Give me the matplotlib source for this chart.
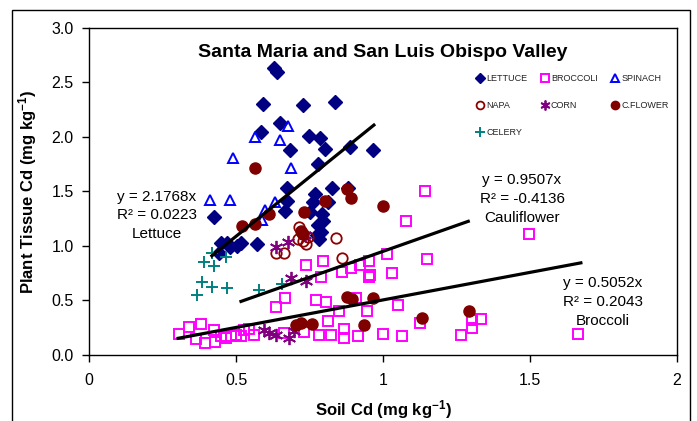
import matplotlib
matplotlib.use("Agg")
import matplotlib.pyplot as plt
import numpy as np
from matplotlib.patches import Rectangle

plt.rcParams["font.family"] = ["Liberation Sans", "DejaVu Sans"]
plt.rcParams["mathtext.default"] = "regular"

# Soil Cd (x) and plant tissue Cd (y), mg/kg
lettuce_x = [0.629, 0.639, 0.592, 0.727, 0.837, 0.650, 0.585, 0.748, 0.786, 0.684,
             0.803, 0.888, 0.966, 0.779, 0.673, 0.826, 0.881, 0.769, 0.673, 0.813,
             0.762, 0.667, 0.752, 0.793, 0.796, 0.425, 0.779, 0.789, 0.776, 0.782,
             0.571, 0.449, 0.469, 0.517, 0.503, 0.442, 0.480]
lettuce_y = [2.63, 2.60, 2.30, 2.29, 2.32, 2.13, 2.05, 2.01, 1.99, 1.88,
             1.89, 1.91, 1.88, 1.75, 1.53, 1.53, 1.53, 1.48, 1.41, 1.40,
             1.40, 1.32, 1.31, 1.29, 1.23, 1.27, 1.19, 1.13, 1.10, 1.06,
             1.02, 1.03, 1.03, 1.03, 1.00, 0.94, 0.99]

broccoli_x = [1.143, 1.078, 1.497, 1.014, 1.150, 0.738, 0.796, 0.952, 0.861, 0.891,
              0.922, 0.789, 0.952, 0.956, 1.031, 0.667, 0.636, 0.772, 0.806, 0.850,
              0.946, 1.051, 0.908, 0.813, 0.867, 0.867, 0.782, 0.823, 0.915, 1.000,
              1.065, 1.126, 1.265, 1.303, 1.333, 1.303, 1.663, 0.731, 0.663,
              0.306, 0.340, 0.381, 0.364, 0.395, 0.425, 0.429, 0.466, 0.483, 0.500,
              0.517, 0.527, 0.544, 0.561, 0.449]
broccoli_y = [1.50, 1.23, 1.11, 0.93, 0.88, 0.83, 0.86, 0.86, 0.76, 0.80,
              0.83, 0.72, 0.72, 0.73, 0.75, 0.52, 0.44, 0.50, 0.49, 0.40,
              0.40, 0.46, 0.52, 0.31, 0.24, 0.16, 0.18, 0.18, 0.17, 0.19,
              0.17, 0.29, 0.18, 0.32, 0.33, 0.25, 0.19, 0.21, 0.20,
              0.19, 0.26, 0.28, 0.15, 0.11, 0.23, 0.12, 0.16, 0.17, 0.18,
              0.17, 0.23, 0.24, 0.18, 0.17]

spinach_x = [0.677, 0.565, 0.650, 0.490, 0.687, 0.412, 0.480, 0.633, 0.599, 0.588]
spinach_y = [2.10, 2.00, 1.97, 1.81, 1.72, 1.42, 1.42, 1.40, 1.33, 1.24]

napa_x = [0.714, 0.724, 0.745, 0.728, 0.738, 0.840, 0.861, 0.636, 0.663, 0.711]
napa_y = [1.17, 1.12, 1.08, 1.05, 1.02, 1.07, 0.89, 0.94, 0.94, 1.06]

corn_x = [0.636, 0.677, 0.687, 0.738, 0.595, 0.612, 0.636, 0.680, 0.697, 0.735]
corn_y = [0.99, 1.04, 0.71, 0.68, 0.23, 0.20, 0.18, 0.16, 0.22, 1.10]

cflower_x = [0.565, 0.878, 0.891, 0.803, 1.000, 0.731, 0.612, 0.565, 0.520, 0.721,
             0.728, 0.878, 0.895, 0.966, 0.704, 0.721, 0.759, 0.935, 1.133, 1.293]
cflower_y = [1.72, 1.52, 1.44, 1.41, 1.37, 1.31, 1.29, 1.20, 1.18, 1.14,
             1.11, 0.53, 0.51, 0.52, 0.275, 0.29, 0.28, 0.275, 0.34, 0.40]

celery_x = [0.418, 0.466, 0.391, 0.425, 0.384, 0.418, 0.469, 0.367, 0.578, 0.656]
celery_y = [0.94, 0.90, 0.85, 0.82, 0.67, 0.62, 0.61, 0.55, 0.60, 0.65]

# trend lines through the origin: slope, x start, x end
trend_names = ["Lettuce", "Cauliflower", "Broccoli"]
trend_slope = [2.1768, 0.9507, 0.5052]
trend_r2 = ["0.0223", "-0.4136", "0.2043"]
trend_x0 = [0.418, 0.517, 0.303]
trend_x1 = [0.969, 1.29, 1.673]

fig = plt.figure(figsize=(6.97, 4.21), dpi=100)
ax = fig.add_axes([0.1277, 0.1568, 0.8436, 0.7767])

ax.plot(lettuce_x, lettuce_y, ls="none", marker="D", ms=7.3, color="#000080", label="LETTUCE")
ax.plot(broccoli_x, broccoli_y, ls="none", marker="s", ms=7, mfc="none", mec="#FF00FF", mew=1.4, label="BROCCOLI")
ax.plot(spinach_x, spinach_y, ls="none", marker="^", ms=7.5, mfc="none", mec="#0000FF", mew=1.4, label="SPINACH")
ax.plot(napa_x, napa_y, ls="none", marker="o", ms=7.5, mfc="none", mec="#8B0000", mew=1.3, label="NAPA")
ax.plot(corn_x, corn_y, ls="none", marker=(6, 2, 0), ms=9.5, color="#800080", mew=1.3, label="CORN")
ax.plot(cflower_x, cflower_y, ls="none", marker="o", ms=8, color="#800000", label="C.FLOWER")
ax.plot(celery_x, celery_y, ls="none", marker="+", ms=9, color="#008080", mew=1.4, label="CELERY")

for m, a, b in zip(trend_slope, trend_x0, trend_x1):
    xs = np.array([a, b])
    ax.plot(xs, m * xs, color="black", lw=2.3, zorder=5)

lbl = {"Lettuce": (0.231, 1.28), "Cauliflower": (1.473, 1.43), "Broccoli": (1.748, 0.49)}
for name, m, r2 in zip(trend_names, trend_slope, trend_r2):
    tx, ty = lbl[name]
    ax.text(tx, ty, f"y = {m:.4f}x\nR² = {r2}\n{name}", ha="center", va="center",
            fontsize=11, linespacing=1.45)

ax.set_xlim(0, 2)
ax.set_ylim(0, 3)
ax.set_xticks([0, 0.5, 1, 1.5, 2])
ax.set_xticklabels(["0", "0.5", "1", "1.5", "2"])
ax.set_yticks(np.arange(0, 3.01, 0.5))
ax.set_yticklabels([f"{v:.1f}" for v in np.arange(0, 3.01, 0.5)])
ax.tick_params(direction="out", length=5, labelsize=11.5, width=1)
ax.tick_params(axis="x", pad=8)
ax.tick_params(axis="y", pad=6)
for s in ax.spines.values():
    s.set_linewidth(1)

ax.set_title("Santa Maria and San Luis Obispo Valley", fontsize=14, fontweight="bold",
             y=0.885)
ax.set_xlabel("Soil Cd (mg kg$^{-1}$)", fontsize=12, fontweight="bold", labelpad=7)
ax.set_ylabel("Plant Tissue Cd (mg kg$^{-1}$)", fontsize=12, fontweight="bold", labelpad=9)

h, l = ax.get_legend_handles_labels()
order = [0, 3, 6, 1, 4, 2, 5]
ax.legend([h[i] for i in order], [l[i] for i in order], ncol=3, frameon=False,
          loc="upper left", bbox_to_anchor=(0.645, 0.885), fontsize=6.5,
          markerscale=0.75, handlelength=0.8, handletextpad=0.3,
          columnspacing=1.5, labelspacing=2.0, labelcolor="#222222")

fig.patches.append(Rectangle((12 / 697, -0.1), 678 / 697, 1.1 - 10 / 421,
                             transform=fig.transFigure, fill=False, ec="black", lw=1))

fig.savefig("out.png", dpi=100)
